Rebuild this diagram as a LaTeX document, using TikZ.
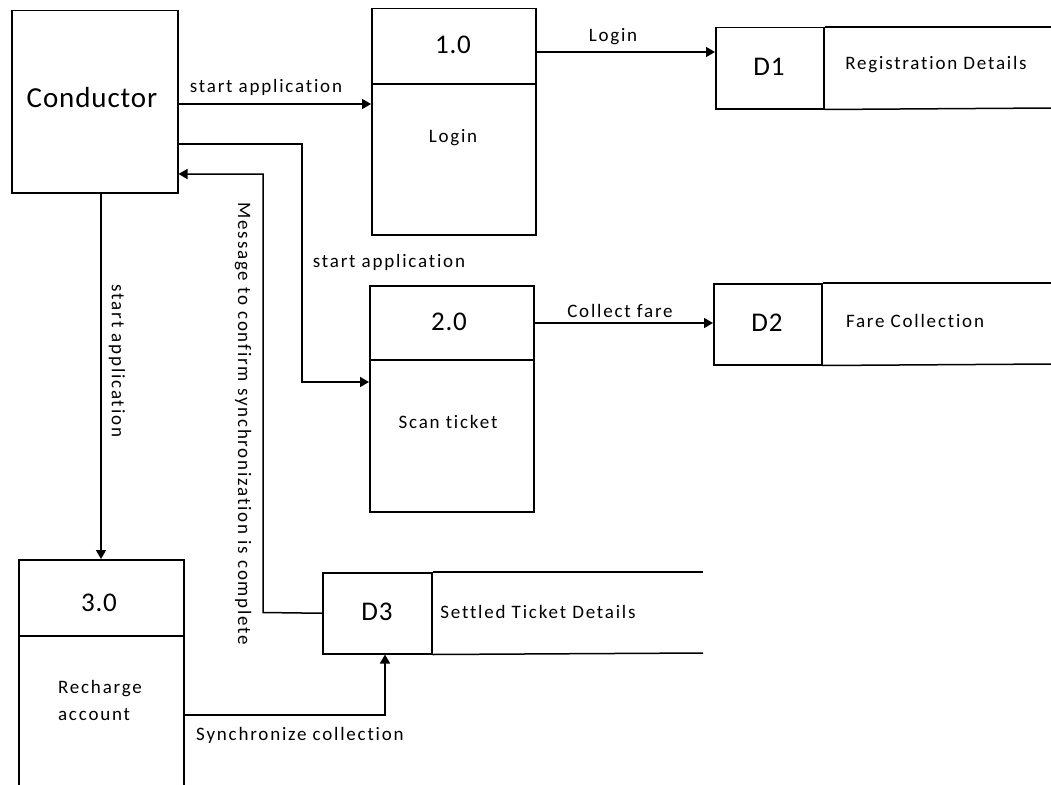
\documentclass[tikz,border=0pt]{standalone}
\usepackage{fontspec}
\setmainfont{Carlito}[Ligatures=NoCommon]
\newfontfamily\labfont{Carlito}[LetterSpace=9.5,Ligatures=NoCommon]
\newfontfamily\bigfont{Carlito}[LetterSpace=3,Ligatures=NoCommon]
\usetikzlibrary{arrows.meta}
\begin{document}
\begin{tikzpicture}[x=1pt,y=-1pt,
  box/.style={draw, line width=1.5pt, inner sep=0pt, anchor=north west},
  lbl/.style={font=\labfont\fontsize{19}{27}\selectfont, inner sep=0pt},
  big/.style={font=\bigfont\fontsize{27}{30}\selectfont, inner sep=0pt},
  huge/.style={font=\bigfont\fontsize{29}{32}\selectfont, inner sep=0pt},
  line/.style={draw, line width=1.5pt},
  flow/.style={line, -{Triangle[length=9pt,width=10pt]}}]
\clip (0,0) rectangle (1051,784);
\fill[white] (0,0) rectangle (1051,784);
% Conductor
\node[box, minimum width=166pt, minimum height=182pt] (cond) at (11,10) {};
\node[huge] (condt) at (92,98) {Conductor};
% Process 1.0
\node[box, minimum width=164pt, minimum height=226pt] (p1) at (371,8) {};
\draw[line] (p1.west |- 0,84) -- (p1.east |- 0,84);
\node[big] (p1n) at (453,45) {1.0};
\node[lbl] (p1t) at (453,138) {Login};
% Process 2.0
\node[box, minimum width=164pt, minimum height=226pt] (p2) at (369,285) {};
\draw[line] (p2.west |- 0,360) -- (p2.east |- 0,360);
\node[big] (p2n) at (449,322) {2.0};
\node[lbl] (p2t) at (448,422) {Scan ticket};
% Process 3.0 (runs off the bottom)
\node[box, minimum width=165pt, minimum height=260pt] (p3) at (18,559) {};
\draw[line] (p3.west |- 0,636) -- (p3.east |- 0,636);
\node[big] (p3n) at (99,603) {3.0};
\node[lbl, align=left] (p3t) at (100,700) {Recharge\\account};
% Data store D1
\node[box, minimum width=108pt, minimum height=81pt] (d1) at (715,27) {};
\draw[line] (d1.north east) -- (1051,27);
\draw[line] (d1.south east) -- (1051,108);
\node[big] (d1n) at (769,67) {D1};
\node[lbl] (d1t) at (936,65) {Registration Details};
% Data store D2
\node[box, minimum width=108pt, minimum height=81pt] (d2) at (713,283) {};
\draw[line] (d2.north east) -- (1051,283);
\draw[line] (d2.south east) -- (1051,364);
\node[big] (d2n) at (767,323) {D2};
\node[lbl] (d2t) at (915,321) {Fare Collection};
% Data store D3
\node[box, minimum width=109pt, minimum height=81pt] (d3) at (322,572) {};
\draw[line] (d3.north east) -- (703,572);
\draw[line] (d3.south east) -- (703,653);
\node[big] (d3n) at (377,612) {D3};
\node[lbl] (d3t) at (538,612) {Settled Ticket Details};
% Flows
\draw[flow] (cond.east |- 0,104) -- (p1.west |- 0,104);
\node[lbl] (f1) at (266,87) {start application};
\draw[flow] (cond.east |- 0,144) -- (302,144) -- (302,382) -- (p2.west |- 0,382);
\node[lbl] (f2) at (389,262) {start application};
\draw[flow] (cond.south -| 101,0) -- (p3.north -| 101,0);
\node[lbl, rotate=-90] (f3) at (117,361) {start application};
\draw[flow] (d3.west) -- (263,612.5) -- (263,174) -- (cond.east |- 0,174);
\node[lbl, rotate=-90] (f4) at (243,424) {Message to confirm synchronization is complete};
\draw[flow] (p1.east |- 0,52) -- (d1.west |- 0,52);
\node[lbl] (f5) at (613,37) {Login};
\draw[flow] (p2.east |- 0,323) -- (d2.west |- 0,323);
\node[lbl] (f6) at (620,311) {Collect fare};
\draw[flow] (p3.east |- 0,715) -- (385,715) -- (d3.south -| 385,0);
\node[lbl] (f7) at (300,735) {Synchronize collection};
\end{tikzpicture}
\end{document}
